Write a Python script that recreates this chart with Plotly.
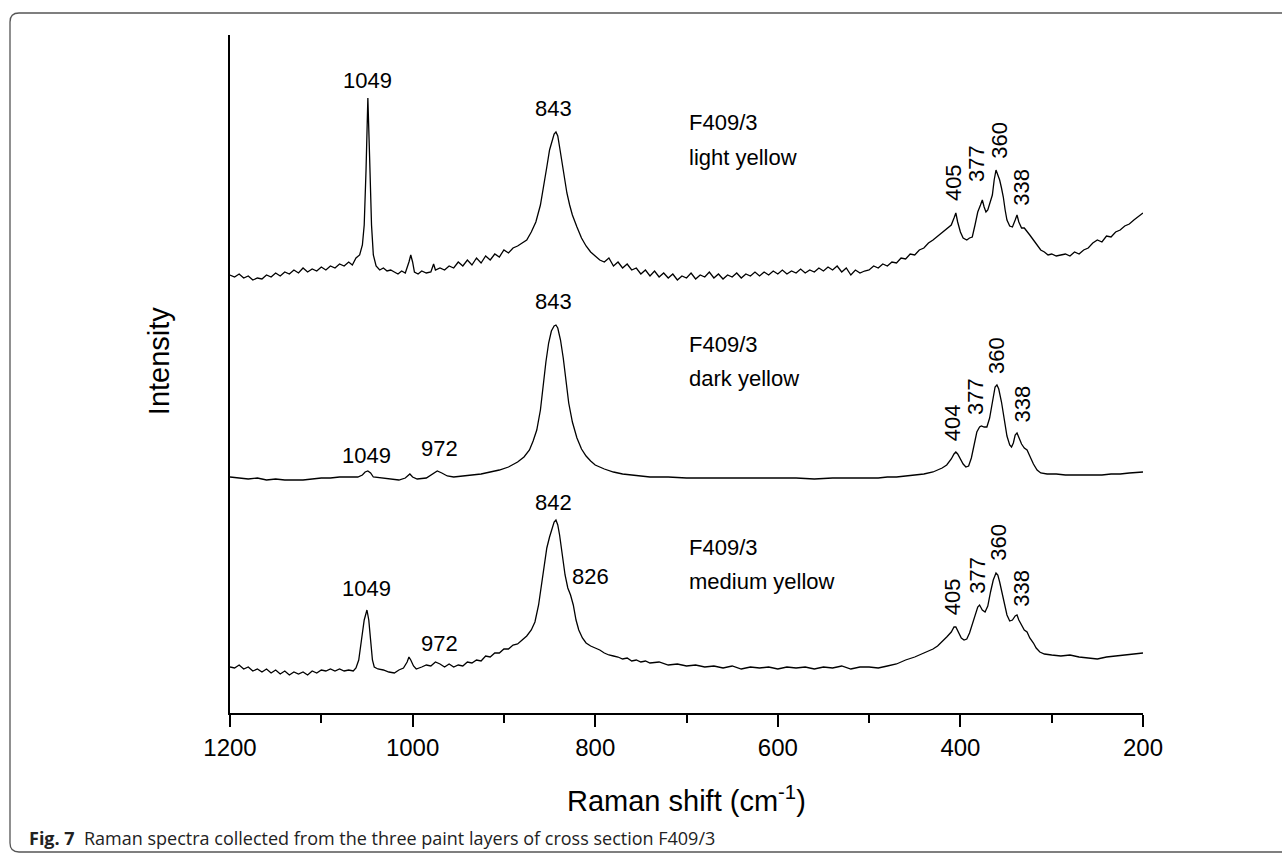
import plotly.graph_objects as go

# ---------------- data (readings; intensity in arbitrary units) ----------------
# Light yellow layer: wavenumber, vertical reading (pixels from top; converted below)
light_x = [1200,1195,1190,1185,1180,1175,1170,1165,1160,1155,1150,1145,1140,1135,1130,1125,1120,1115,1110,1105,
           1100,1095,1090,1085,1080,1075,1070,1066,1062,1058,1055,1053,1051,1049,1047,1045,1043,1040,1036,1032,
           1028,1024,1020,1016,1012,1008,1004,1002,1000,998,994,990,985,980,977,975,970,965,960,955,
           950,945,940,935,930,925,920,915,910,905,900,895,890,885,880,875,870,865,860,856,
           853,850,848,845,843,841,839,836,833,831,828,825,820,815,810,805,800,795,790,785,
           780,775,770,765,760,755,750,745,740,735,730,725,720,715,710,705,700,695,690,685,
           680,675,670,665,660,655,650,645,640,635,630,625,620,615,610,605,600,595,590,585,
           580,575,570,565,560,555,550,545,540,535,530,525,520,515,510,505,500,495,490,485,
           480,475,470,465,460,455,450,445,440,435,430,425,420,415,410,407,405,403,400,397,
           393,390,387,384,381,378,376,374,372,370,367,365,363,361,359,357,355,353,351,349,
           346,343,340,338,336,333,330,327,324,320,316,312,308,304,300,295,290,285,280,275,
           270,265,260,255,250,245,240,235,230,225,220,215,210,205,200]
light_r = [275,277,274,278,276,280,278,279,275,277,273,276,272,274,270,273,268,272,269,271,
           267,270,266,268,264,266,262,265,258,255,245,225,170,98,160,225,255,266,270,268,
           271,270,272,274,271,273,262,255,262,272,274,271,273,272,264,270,268,270,266,268,
           262,266,260,265,258,263,256,260,254,257,250,253,248,246,243,240,232,222,205,185,
           167,150,143,134,132,136,147,165,182,193,205,215,227,238,246,252,256,260,262,258,
           266,262,268,264,270,268,274,270,276,271,277,273,278,274,280,276,278,273,279,275,
           277,272,278,274,279,275,277,273,278,274,276,272,276,272,275,271,274,270,274,271,
           273,269,273,270,272,268,271,267,270,266,272,268,275,270,273,271,270,266,268,264,
           266,262,263,258,259,254,255,250,248,243,240,236,232,228,225,218,213,222,232,238,
           240,238,237,225,212,205,200,207,212,210,200,195,180,170,175,180,188,197,210,220,
           226,227,220,215,222,228,228,232,235,240,245,250,252,255,254,256,255,254,256,252,
           254,250,248,243,240,242,236,237,232,230,226,224,220,216,213]

# Dark yellow layer
dark_x = [1200,1190,1180,1170,1160,1150,1140,1130,1120,1110,1100,1090,1080,1070,1060,1055,1052,1049,1046,1043,
          1035,1025,1015,1008,1003,1000,995,985,978,973,968,962,955,945,935,925,915,905,895,885,
          878,872,868,864,860,857,854,851,848,845,843,841,838,835,832,829,825,820,815,810,
          805,800,790,780,770,760,750,740,720,700,680,660,640,620,600,580,560,540,520,500,
          490,480,470,460,450,440,430,420,415,410,407,405,403,400,397,394,391,388,385,382,
          379,377,374,371,368,365,362,360,358,355,352,349,346,344,342,340,338,336,333,330,
          327,324,320,316,312,305,295,285,275,265,255,245,235,225,215,205,200]
dark_r = [477,478,479,478,480,479,480,480,480,479,478,478,477,477,477,475,472,471,473,477,
          478,479,480,478,474,477,479,478,474,471,473,476,477,476,475,474,472,470,467,462,
          457,450,441,430,410,385,362,343,331,326,325,328,340,358,380,403,422,438,449,456,
          461,465,469,472,474,475,476,477,477,478,478,478,478,478,478,478,479,478,478,478,
          478,477,477,476,475,474,472,468,465,459,454,452,454,459,464,467,466,458,444,432,
          427,426,427,427,418,400,387,385,389,402,420,436,445,447,443,435,433,437,444,448,
          450,456,464,470,473,474,474,475,475,475,475,475,474,474,473,472,472]

# Medium yellow layer
medium_x = [1200,1195,1190,1185,1180,1175,1170,1165,1160,1155,1150,1145,1140,1135,1130,1125,1120,1115,1110,1105,
            1100,1095,1090,1085,1080,1075,1070,1065,1062,1059,1056,1053,1050,1048,1046,1044,1042,1038,1032,1026,
            1020,1015,1010,1006,1004,1002,999,996,990,985,980,975,970,965,960,955,950,945,940,935,
            930,925,920,915,910,905,900,895,890,885,880,875,870,866,862,859,856,853,850,847,
            845,843,841,839,836,833,830,827,824,821,818,814,810,805,800,795,790,785,780,775,
            770,765,760,755,750,745,740,730,720,710,700,690,680,670,660,650,640,630,620,610,
            600,590,580,570,560,550,540,530,520,510,500,490,480,470,460,450,440,430,425,420,
            415,410,407,405,402,399,396,393,390,387,384,381,379,376,373,370,367,364,361,359,
            357,355,352,349,346,343,340,338,336,333,330,327,324,320,317,313,308,300,290,280,
            270,260,250,240,230,220,210,200]
medium_r = [667,668,665,669,667,671,669,672,669,673,670,674,671,675,672,674,672,675,671,673,
            670,671,669,671,669,671,670,671,668,660,640,620,610,620,640,660,667,669,670,672,
            673,670,668,662,657,660,666,669,667,665,666,662,664,667,664,667,665,666,662,663,
            660,661,656,657,653,653,649,649,645,644,640,636,630,622,605,585,563,548,537,527,
            522,520,525,535,555,575,588,595,605,620,630,638,643,646,648,650,653,655,656,657,
            659,658,661,660,662,661,663,662,665,664,666,665,667,666,668,666,669,667,668,667,
            669,667,668,667,669,667,668,666,669,667,667,668,666,664,660,657,653,649,646,642,
            637,632,627,627,632,638,640,639,633,624,615,607,605,610,612,606,592,580,573,575,
            582,590,603,615,621,620,616,615,620,625,630,632,638,643,648,652,654,655,656,655,
            657,658,659,657,656,655,654,653]

# readings are measured downward from a reference line; convert to intensity
REF = 713
light_y = [REF - v for v in light_r]
dark_y = [REF - v for v in dark_r]
medium_y = [REF - v for v in medium_r]

# peak labels: text, wavenumber position, intensity position, rotated?
label_text = ["1049", "843", "405", "377", "360", "338",
              "843", "1049", "972", "404", "377", "360", "338",
              "842", "826", "1049", "972", "405", "377", "360", "338"]
label_x = [1049, 846, 408, 383, 358, 334,
           846, 1050, 971, 409, 384, 361, 333,
           846, 805, 1050, 971, 409, 382, 359, 334]
label_y = [633, 605, 530, 550, 573, 526,
           412, 258, 265, 290, 316, 357, 309,
           211, 137, 125, 70, 116, 138, 171, 125]
label_rot = [False, False, True, True, True, True,
             False, False, False, True, True, True, True,
             False, False, False, False, True, True, True, True]

sample_text = ["F409/3", "light yellow", "F409/3", "dark yellow", "F409/3", "medium yellow"]
sample_x = [700, 700, 700, 700, 700, 700]
sample_y = [591, 556, 369, 335, 166, 132]

x_ticks = [1200, 1000, 800, 600, 400, 200]

# ---------------- figure ----------------
FONT = "Liberation Sans, Arial, sans-serif"
fig = go.Figure()
for xs, ys in [(light_x, light_y), (dark_x, dark_y), (medium_x, medium_y)]:
    fig.add_trace(go.Scatter(x=xs, y=ys, mode="lines",
                             line=dict(color="black", width=1.3), showlegend=False,
                             hoverinfo="skip"))

anns = []
for t, x, y, r in zip(label_text, label_x, label_y, label_rot):
    anns.append(dict(text=t, x=x, y=y, xref="x", yref="y", showarrow=False,
                     textangle=-90 if r else 0, xanchor="center", yanchor="middle",
                     font=dict(family=FONT, size=22, color="black")))
for t, x, y in zip(sample_text, sample_x, sample_y):
    anns.append(dict(text=t, x=x, y=y, xref="x", yref="y", showarrow=False,
                     xanchor="left", yanchor="middle",
                     font=dict(family=FONT, size=22, color="black")))

# caption
anns.append(dict(text="<b>Fig. 7</b>\u00a0\u00a0Raman spectra collected from the three paint layers of cross section F409/3",
                 x=-0.2223, y=-0.184, xref="paper", yref="paper", showarrow=False,
                 xanchor="left", yanchor="middle",
                 font=dict(family="Open Sans, Noto Sans, sans-serif", size=18, color="#222")))

# axis titles
anns.append(dict(text="Intensity", x=-0.077, y=0.52, xref="paper", yref="paper",
                 showarrow=False, textangle=-90, xanchor="center", yanchor="middle",
                 font=dict(family=FONT, size=29, color="black")))
anns.append(dict(text="Raman shift (cm<sup>-1</sup>)", x=0.5, y=-0.127, xref="paper", yref="paper",
                 showarrow=False, xanchor="center", yanchor="middle",
                 font=dict(family=FONT, size=29, color="black")))

# rounded frame
L, T, R, B = (10 - 230) / 913, (713 - 13) / 678, (1300 - 230) / 913, (713 - 852) / 678
rx, ry = 9 / 913, 9 / 678
path = (f"M {R},{T} L {L+rx},{T} Q {L},{T} {L},{T-ry} L {L},{B+ry} "
        f"Q {L},{B} {L+rx},{B} L {R},{B}")

fig.update_layout(
    width=1282, height=854,
    margin=dict(l=230, r=139, t=35, b=141),
    paper_bgcolor="white", plot_bgcolor="white",
    annotations=anns,
    shapes=[dict(type="path", path=path, xref="paper", yref="paper",
                 line=dict(color="#555555", width=1.3))],
    xaxis=dict(range=[1200, 200], showline=True, linecolor="black", linewidth=2,
               ticks="outside", ticklen=12, tickwidth=1.5, tickcolor="black",
               tickvals=x_ticks, ticktext=[str(v) for v in x_ticks],
               tickfont=dict(family=FONT, size=24, color="black"),
               minor=dict(dtick=100, tick0=200, ticks="outside", ticklen=8, tickwidth=1.5, tickcolor="black"),
               showgrid=False, zeroline=False),
    yaxis=dict(range=[0, 678], showline=True, linecolor="black", linewidth=2,
               showticklabels=False, ticks="", showgrid=False, zeroline=False),
)

fig.write_html("out.html")
